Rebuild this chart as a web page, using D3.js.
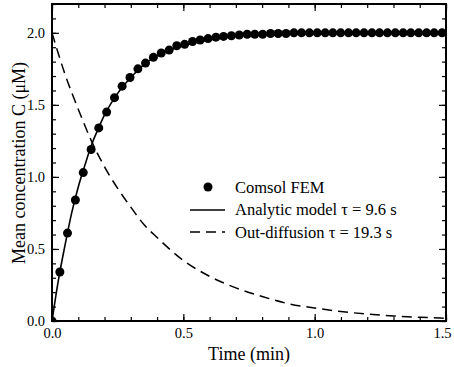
<!DOCTYPE html>
<html>
<head>
<meta charset="utf-8">
<script src="https://cdn.jsdelivr.net/npm/d3@7"></script>
<style>
  body { margin: 0; background: #fff; }
  svg text { font-family: "Liberation Serif", "Times New Roman", serif !important; fill: #000; }
</style>
</head>
<body>
<svg id="chart" width="454" height="367"></svg>
<script>
// Comsol FEM points (time in min, concentration in uM)
var femTime = [0.000, 0.030, 0.059, 0.089, 0.119, 0.149, 0.178, 0.208, 0.238, 0.267,
  0.297, 0.327, 0.356, 0.386, 0.416, 0.446, 0.475, 0.505, 0.535, 0.564,
  0.594, 0.624, 0.653, 0.683, 0.713, 0.743, 0.772, 0.802, 0.832, 0.861,
  0.891, 0.921, 0.950, 0.980, 1.010, 1.040, 1.069, 1.099, 1.129, 1.158,
  1.188, 1.218, 1.247, 1.277, 1.307, 1.337, 1.366, 1.396, 1.426, 1.455, 1.485];
var femConc = [0.00, 0.34, 0.61, 0.84, 1.03, 1.19, 1.34, 1.45, 1.55, 1.63,
  1.69, 1.75, 1.79, 1.83, 1.86, 1.88, 1.91, 1.92, 1.94, 1.95,
  1.96, 1.97, 1.975, 1.98, 1.985, 1.99, 1.99, 1.99, 1.995, 1.995,
  1.995, 2.00, 2.00, 2.00, 2.00, 2.00, 2.00, 2.00, 2.00, 2.00,
  2.00, 2.00, 2.00, 2.00, 2.00, 2.00, 2.00, 2.00, 2.00, 2.00, 2.00];

// Analytic model, tau = 9.6 s
var modelTime = [0, 0.025, 0.05, 0.075, 0.1, 0.125, 0.15, 0.175, 0.2, 0.25, 0.3, 0.35,
  0.4, 0.45, 0.5, 0.6, 0.7, 0.8, 0.9, 1.0, 1.2, 1.5];
var modelConc = [0, 0.29, 0.53, 0.75, 0.93, 1.08, 1.22, 1.33, 1.43, 1.58, 1.69, 1.78,
  1.84, 1.88, 1.91, 1.95, 1.975, 1.99, 1.993, 1.996, 1.999, 2.0];

// Out-diffusion, tau = 19.3 s
var outTime = [0, 0.05, 0.1, 0.15, 0.2, 0.25, 0.3, 0.35, 0.4, 0.5, 0.6, 0.7, 0.8,
  0.9, 1.0, 1.1, 1.2, 1.3, 1.4, 1.5];
var outConc = [2.0, 1.71, 1.47, 1.25, 1.07, 0.92, 0.79, 0.67, 0.58, 0.42, 0.31, 0.23,
  0.17, 0.12, 0.09, 0.066, 0.048, 0.035, 0.026, 0.019];

var xTicks = [0, 0.5, 1.0, 1.5];
var yTicks = [0, 0.5, 1.0, 1.5, 2.0];
var legendLabels = ["Comsol FEM", "Analytic model \u03c4 = 9.6 s", "Out-diffusion \u03c4 = 19.3 s"];

var svg = d3.select("#chart");
var plotL = 52, plotR = 446, plotT = 4, plotB = 321;

var x = d3.scaleLinear().domain([0, 1.5]).range([plotL, plotR]);
var y = d3.scaleLinear().domain([0, 2.2]).range([plotB, plotT]);

var xMinor = d3.range(0, 1.51, 0.1);
var yMinor = d3.range(0, 2.21, 0.1);

svg.append("clipPath").attr("id", "plotclip")
  .append("rect")
  .attr("x", plotL).attr("y", plotT)
  .attr("width", plotR - plotL).attr("height", plotB - plotT);

/*** Axes: ticks point inward on all four sides ***/
function addAxis(axis, tx, ty, labels) {
  var g = svg.append("g")
    .attr("transform", "translate(" + tx + "," + ty + ")")
    .call(axis);
  g.select(".domain").remove();
  g.selectAll("line").attr("stroke", "#000").attr("stroke-width", 1.2);
  if (!labels) g.selectAll("text").remove();
  else g.attr("font-size", null).attr("font-family", null)
    .selectAll("text").style("font-size", "14.5px");
  return g;
}

// minor ticks
addAxis(d3.axisBottom(x).tickValues(xMinor).tickSize(-4), 0, plotB, false);
addAxis(d3.axisTop(x).tickValues(xMinor).tickSize(-4), 0, plotT, false);
addAxis(d3.axisLeft(y).tickValues(yMinor).tickSize(-4), plotL, 0, false);
addAxis(d3.axisRight(y).tickValues(yMinor).tickSize(-4), plotR, 0, false);

// major ticks
var gx = addAxis(d3.axisBottom(x).tickValues(xTicks).tickSize(-7).tickPadding(7)
  .tickFormat(d3.format(".1f")), 0, plotB, true);
// last label sits against the right edge
gx.selectAll("text").filter(d => d === 1.5).attr("dx", -4);
addAxis(d3.axisTop(x).tickValues(xTicks).tickSize(-7), 0, plotT, false);
addAxis(d3.axisLeft(y).tickValues(yTicks).tickSize(-7).tickPadding(7)
  .tickFormat(d3.format(".1f")), plotL, 0, true);
addAxis(d3.axisRight(y).tickValues(yTicks).tickSize(-7), plotR, 0, false);

// frame
svg.append("rect")
  .attr("x", plotL).attr("y", plotT)
  .attr("width", plotR - plotL).attr("height", plotB - plotT)
  .attr("fill", "none").attr("stroke", "#000").attr("stroke-width", 2);

/*** Curves ***/
var line = d3.line()
  .x(d => x(d[0]))
  .y(d => y(d[1]))
  .curve(d3.curveMonotoneX);

var plot = svg.append("g").attr("clip-path", "url(#plotclip)");

plot.append("path")
  .datum(outTime.map((t, i) => [t, outConc[i]]))
  .attr("d", line)
  .attr("fill", "none").attr("stroke", "#000")
  .attr("stroke-width", 1.5).attr("stroke-dasharray", "10,6");

plot.append("path")
  .datum(modelTime.map((t, i) => [t, modelConc[i]]))
  .attr("d", line)
  .attr("fill", "none").attr("stroke", "#000").attr("stroke-width", 1.6);

plot.selectAll("circle.fem")
  .data(femTime.map((t, i) => [t, femConc[i]]))
  .join("circle")
  .attr("class", "fem")
  .attr("cx", d => x(d[0]))
  .attr("cy", d => y(d[1]))
  .attr("r", 4.5)
  .attr("fill", "#000");

/*** Axis titles ***/
svg.append("text")
  .attr("x", (plotL + plotR) / 2)
  .attr("y", 360)
  .attr("text-anchor", "middle")
  .style("font-size", "18px")
  .text("Time (min)");

svg.append("text")
  .attr("transform", "translate(25,163) rotate(-90)")
  .attr("text-anchor", "middle")
  .style("font-size", "18px")
  .text("Mean concentration C (\u03bcM)");

/*** Legend ***/
var lg = svg.append("g").attr("transform", "translate(190,187)");
lg.append("circle").attr("cx", 18).attr("cy", 0).attr("r", 4.5).attr("fill", "#000");
lg.append("line").attr("x1", 0).attr("x2", 35).attr("y1", 23).attr("y2", 23)
  .attr("stroke", "#000").attr("stroke-width", 1.6);
lg.append("line").attr("x1", 0).attr("x2", 35).attr("y1", 45).attr("y2", 45)
  .attr("stroke", "#000").attr("stroke-width", 1.5).attr("stroke-dasharray", "10,6");
lg.selectAll("text.lab")
  .data(legendLabels)
  .join("text")
  .attr("class", "lab")
  .attr("x", 45)
  .attr("y", (d, i) => i * 22.5 + 5.5)
  .style("font-size", "16.5px")
  .text(d => d);
</script>
</body>
</html>
